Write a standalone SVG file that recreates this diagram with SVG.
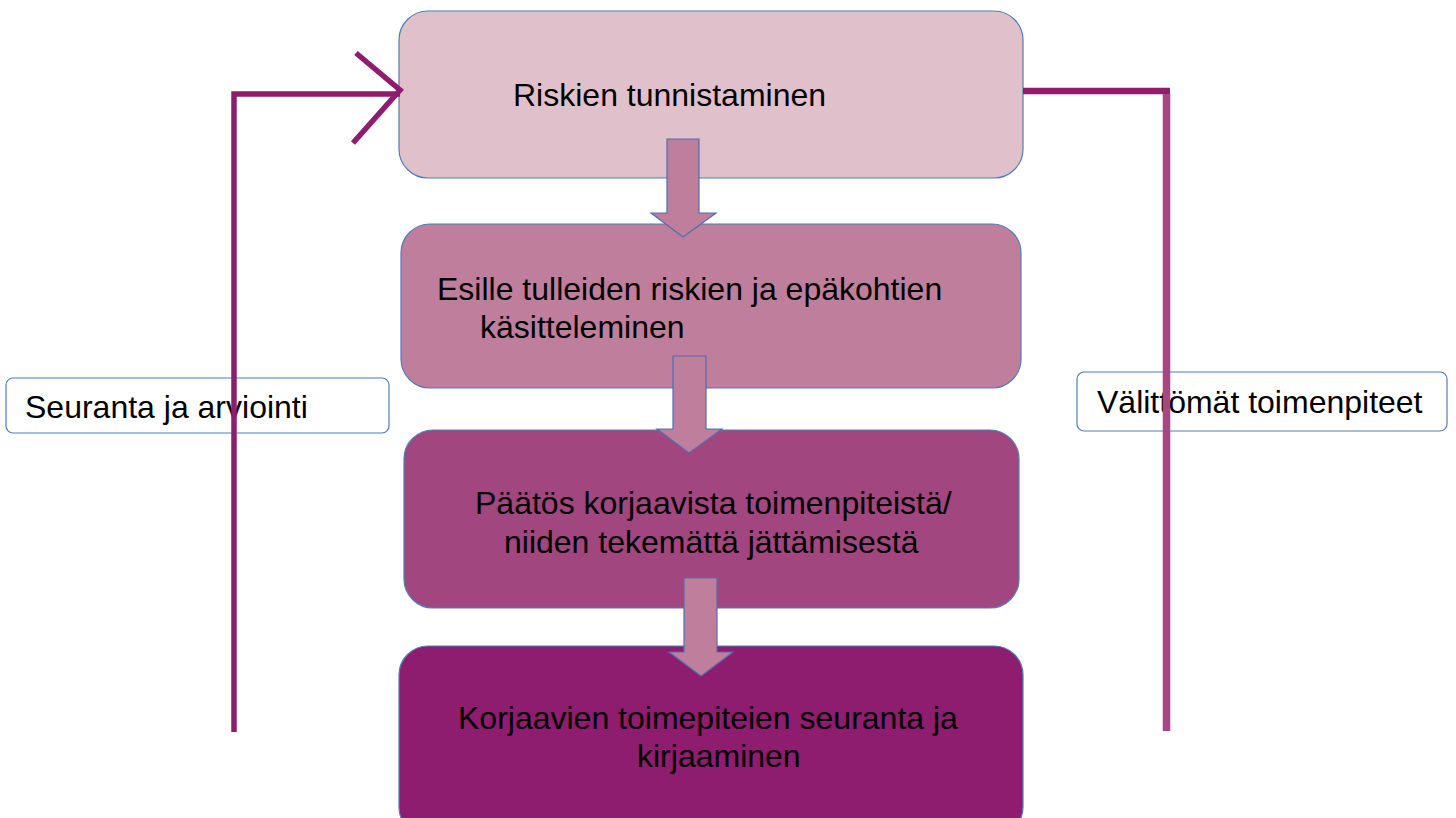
<svg xmlns="http://www.w3.org/2000/svg" width="1456" height="818" viewBox="0 0 1456 818">
<style>
.box{stroke:#4F7DB8;stroke-width:1.2}
.lbl{fill:#ffffff;stroke:#4F7DB8;stroke-width:1.2}
.t{font-family:"Liberation Sans",Arial,sans-serif;font-size:32px;fill:#000000}
.arr{fill:#BF7F9C;stroke:#4F6FAF;stroke-width:1.2;stroke-linejoin:miter}
.con{fill:none;stroke:#8E1C6F;stroke-width:5.5;stroke-linecap:butt}
</style>
<rect width="1456" height="818" fill="#ffffff"/>
<g id="node-riskien-tunnistaminen">
<rect class="box" x="399" y="11" width="624" height="167" rx="29" fill="#E0C1CB"/>
<text class="t" x="513" y="106">Riskien tunnistaminen</text>
</g>
<g id="node-esille-tulleiden">
<rect class="box" x="401" y="224" width="620" height="164" rx="29" fill="#BF7F9C"/>
<text class="t" x="437" y="300">Esille tulleiden riskien ja epäkohtien</text>
<text class="t" x="480" y="338">käsitteleminen</text>
</g>
<g id="node-paatos">
<rect class="box" x="404" y="430" width="615" height="178" rx="29" fill="#A1467E"/>
<text class="t" x="475" y="514">Päätös korjaavista toimenpiteistä/</text>
<text class="t" x="504" y="553">niiden tekemättä jättämisestä</text>
</g>
<g id="node-korjaavien">
<rect class="box" x="399" y="646" width="624" height="190" rx="29" fill="#8E1C6F"/>
<text class="t" x="458" y="729">Korjaavien toimepiteien seuranta ja</text>
<text class="t" x="637" y="767">kirjaaminen</text>
</g>
<g id="node-seuranta-ja-arviointi">
<rect class="lbl" x="6" y="378" width="383" height="55" rx="7"/>
<text class="t" x="25" y="418">Seuranta ja arviointi</text>
</g>
<g id="node-valittomat-toimenpiteet">
<rect class="lbl" x="1077" y="372" width="370" height="59" rx="7"/>
<text class="t" x="1097" y="413">Välittömät toimenpiteet</text>
</g>
<g id="connectors">
<polygon class="arr" points="667,139 699,139 699,213 716,213 683,237 651,213 667,213"/>
<polygon class="arr" points="673,356 706,356 706,429 722,429 689,453 657,429 673,429"/>
<polygon class="arr" points="684,578 717,578 717,652 733,652 701,676 669,652 684,652"/>
<polyline class="con" points="234,732 234,94 400,94"/>
<polyline class="con" points="356,53 400,90 353,143"/>
<line x1="1023" y1="91" x2="1170" y2="91" stroke="#8E1C6F" stroke-width="6.5"/>
<line x1="1166.5" y1="94" x2="1166.5" y2="731" stroke="#A4487F" stroke-width="7.5"/>
</g>
</svg>
